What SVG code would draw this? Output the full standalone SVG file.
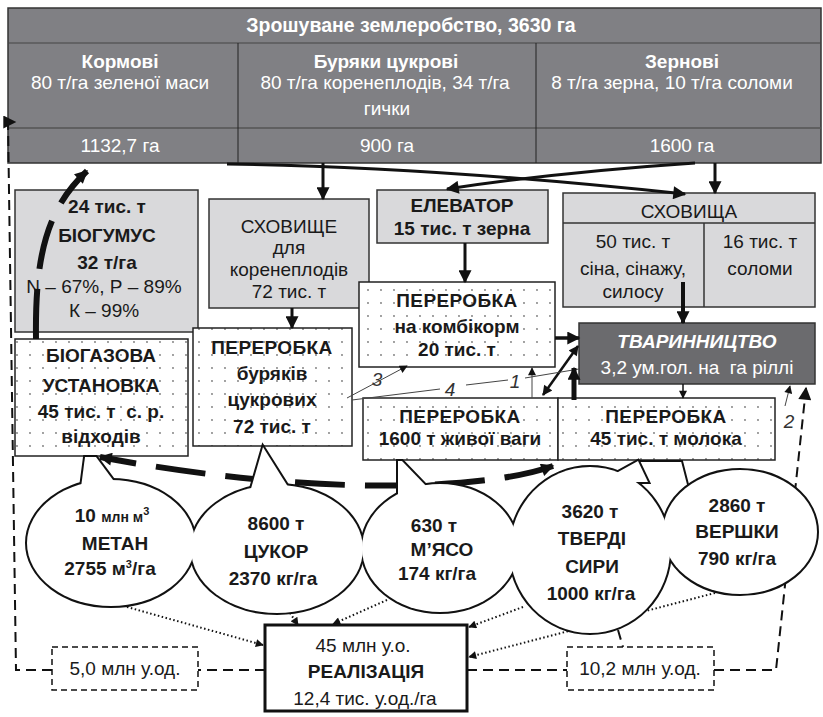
<svg xmlns="http://www.w3.org/2000/svg" width="823" height="717" viewBox="0 0 823 717">
<style>
text{font-family:"Liberation Sans",Arial,sans-serif;font-size:19px;fill:#1a1a1a;text-anchor:middle}
.b{font-weight:bold}
.w{fill:#fff}
.t{font-size:19.5px}
.sp{letter-spacing:0.4px}
.sm{font-size:14px}
.sup{font-size:11px}
.lbl{font-style:italic;font-size:19px;fill:#333}
.gbox{fill:#d9d9db;stroke:#333;stroke-width:1.5}
.dbox{fill:url(#dots);stroke:#222;stroke-width:1.5}
.solid{fill:none;stroke:#111}
.dash{fill:none;stroke:#111;stroke-width:2;stroke-dasharray:10 6}
.dot{fill:none;stroke:#111;stroke-width:2;stroke-dasharray:1.5 2.5}
.thick{fill:none;stroke:#111;stroke-width:6;stroke-dasharray:50 20}
.thin{fill:none;stroke:#444;stroke-width:1}
</style>
<defs>
<pattern id="dots" width="13" height="13" patternUnits="userSpaceOnUse">
<rect width="13" height="13" fill="#fff"/>
<circle cx="4" cy="4" r="0.9" fill="#777"/>
</pattern>
<marker id="ah" viewBox="0 0 10 10" refX="9" refY="5" markerWidth="15" markerHeight="13" markerUnits="userSpaceOnUse" orient="auto-start-reverse"><path d="M0,0 L10,5 L0,10 z" fill="#111"/></marker>
<marker id="ahm" viewBox="0 0 10 10" refX="9" refY="5" markerWidth="12" markerHeight="10" markerUnits="userSpaceOnUse" orient="auto-start-reverse"><path d="M0,0 L10,5 L0,10 z" fill="#111"/></marker>
<marker id="ahs" viewBox="0 0 10 10" refX="9" refY="5" markerWidth="9" markerHeight="8" markerUnits="userSpaceOnUse" orient="auto-start-reverse"><path d="M0,0 L10,5 L0,10 z" fill="#111"/></marker>
<g id="sh-metan"><ellipse cx="111" cy="543" rx="84" ry="63"/><polygon points="80,495 85,457 96,457 116,484"/></g>
<g id="sh-tsukor"><ellipse cx="277" cy="549" rx="86" ry="64"/><polygon points="250,492 263,447 290,490"/></g>
<g id="sh-myaso"><ellipse cx="440" cy="548" rx="78" ry="64"/><polygon points="398,500 398,461 402,461 430,490"/></g>
<g id="sh-syry"><ellipse cx="590" cy="550" rx="80" ry="83"/><polygon points="600,482 638,461 648,482"/></g>
<g id="sh-vershky"><ellipse cx="740" cy="532" rx="77" ry="62"/></g>
</defs>

<g id="zroshuvane">
<rect x="8" y="8" width="813" height="155" fill="#808084" stroke="#333" stroke-width="1.5"/>
<line x1="8" y1="43" x2="821" y2="43" stroke="#444" stroke-width="1.2"/>
<line x1="8" y1="128" x2="821" y2="128" stroke="#555" stroke-width="1.5"/>
<line x1="238" y1="43" x2="238" y2="163" stroke="#222" stroke-width="1"/>
<line x1="536" y1="43" x2="536" y2="163" stroke="#222" stroke-width="1"/>
<text class="b w t" x="411" y="32">Зрошуване землеробство, 3630 га</text>
<text class="b w" x="120" y="68">Кормові</text>
<text class="w" x="120" y="89">80 т/га зеленої маси</text>
<text class="w" x="120" y="152">1132,7 га</text>
<text class="b w" x="386" y="68">Буряки цукрові</text>
<text class="w" x="385" y="89">80 т/га коренеплодів, 34 т/га</text>
<text class="w" x="387" y="115">гички</text>
<text class="w" x="387" y="152">900 га</text>
<text class="b w" x="682" y="68">Зернові</text>
<text class="w" x="672" y="89">8 т/га зерна, 10 т/га соломи</text>
<text class="w" x="682" y="152">1600 га</text>
</g>

<g id="biohumus">
<rect class="gbox" x="15" y="190" width="183" height="142"/>
<text class="b" x="107" y="213">24 тис. т</text>
<text class="b" x="107" y="242">БІОГУМУС</text>
<text class="b" x="107" y="269">32 т/га</text>
<text x="104" y="293">N – 67%, Р – 89%</text>
<text x="104" y="317">К – 99%</text>
</g>

<g id="skhovyshche">
<rect class="gbox" x="209" y="199" width="160" height="109"/>
<text x="289" y="233">СХОВИЩЕ</text>
<text x="289" y="254">для</text>
<text x="289" y="276">коренеплодів</text>
<text x="289" y="298">72 тис. т</text>
</g>

<g id="elevator">
<rect class="gbox" x="377" y="190" width="171" height="53"/>
<text class="b" x="462" y="212">ЕЛЕВАТОР</text>
<text class="b" x="462" y="235">15 тис. т зерна</text>
</g>

<g id="skhovyshcha">
<rect class="gbox" x="563" y="193" width="252" height="114"/>
<line x1="563" y1="223" x2="815" y2="223" stroke="#333" stroke-width="1.5"/>
<line x1="704" y1="223" x2="704" y2="307" stroke="#333" stroke-width="1.5"/>
<text x="689" y="218">СХОВИЩА</text>
<text x="633" y="248">50 тис. т</text>
<text x="633" y="275">сіна, сінажу,</text>
<text x="633" y="298">силосу</text>
<text x="760" y="248">16 тис. т</text>
<text x="760" y="275">соломи</text>
</g>

<g id="kombikorm">
<rect class="dbox" x="359" y="282" width="196" height="85"/>
<text class="b sp" x="457" y="307">ПЕРЕРОБКА</text>
<text class="b" x="457" y="333">на комбікорм</text>
<text class="b" x="457" y="356">20 тис. т</text>
</g>

<g id="tvarynnytstvo">
<rect x="579" y="323" width="236" height="61" fill="#6b6b6e" stroke="#333" stroke-width="1.5"/>
<text class="b w" x="697" y="348" font-style="italic">ТВАРИННИЦТВО</text>
<text class="w" x="697" y="374" xml:space="preserve">3,2 ум.гол. на  га ріллі</text>
</g>

<g id="buryaky">
<rect class="dbox" x="193" y="328" width="159" height="118"/>
<text class="b sp" x="272" y="354">ПЕРЕРОБКА</text>
<text class="b" x="272" y="380">буряків</text>
<text class="b" x="272" y="406">цукрових</text>
<text class="b" x="272" y="433">72 тис. т</text>
</g>

<g id="biogaz">
<rect class="dbox" x="15" y="339" width="173" height="117"/>
<text class="b" x="101" y="362">БІОГАЗОВА</text>
<text class="b" x="101" y="392">УСТАНОВКА</text>
<text class="b" x="101" y="418" xml:space="preserve">45 тис. т  с. р.</text>
<text class="b" x="101" y="443">відходів</text>
</g>

<g id="myaso-proc">
<rect class="dbox" x="363" y="398" width="195" height="62"/>
<text class="b sp" x="460" y="423">ПЕРЕРОБКА</text>
<text class="b" x="460" y="445">1600 т живої ваги</text>
</g>

<g id="moloko-proc">
<rect class="dbox" x="558" y="398" width="217" height="62"/>
<text class="b sp" x="666" y="423">ПЕРЕРОБКА</text>
<text class="b" x="666" y="445">45 тис. т молока</text>
</g>

<g id="connectors">
<path class="solid" stroke-width="3" d="M227,164 Q420,166 685,194" marker-end="url(#ah)"/>
<path class="solid" stroke-width="3" d="M695,163 Q560,172 447,189" marker-end="url(#ah)"/>
<path class="solid" stroke-width="3" d="M323,163 V199" marker-end="url(#ah)"/>
<path class="solid" stroke-width="3" d="M715,163 V193" marker-end="url(#ah)"/>
<path class="solid" stroke-width="3" d="M292,308 V328" marker-end="url(#ah)"/>
<path class="solid" stroke-width="3" d="M465,243 V282" marker-end="url(#ah)"/>
<path class="solid" stroke-width="4" d="M683,282 V323" marker-end="url(#ah)"/>
<path class="solid" stroke-width="3.5" d="M555,338 H579" marker-end="url(#ah)"/>
<path class="solid" stroke-width="2.5" d="M543,395 L578,346" marker-start="url(#ahm)" marker-end="url(#ahm)"/>
<path class="solid" stroke-width="1.5" d="M683,384 V398" marker-end="url(#ahs)"/>
<path class="thin" d="M347,398 L407,366" marker-end="url(#ahs)"/>
<path class="thin" d="M352,400 L440,389 M466,385 L508,380 M525,378 L579,369"/>
<path class="thin" d="M532,398 V368" marker-end="url(#ahs)"/>
<path class="thin" d="M785,406 L790,386" marker-end="url(#ahs)"/>
<text class="lbl" x="377" y="386">3</text>
<text class="lbl" x="450" y="396">4</text>
<text class="lbl" x="515" y="388">1</text>
<text class="lbl" x="789" y="428">2</text>
<path class="thick" d="M36,339 C35,260 45,210 87,171" marker-end="url(#ah)"/>
<path class="thick" d="M553,466 C480,492 300,495 100,457" marker-start="url(#ah)" marker-end="url(#ah)"/>
<path class="solid" stroke-width="5" d="M574,400 V368" marker-end="url(#ah)"/>
<path class="dash" d="M265,670 H198"/>
<path class="dash" d="M52,670 H16 L8,122 H15" marker-end="url(#ah)"/>
<path class="dash" d="M467,670 H567"/>
<path class="dash" d="M714,670 H776 L806,388" marker-end="url(#ah)"/>
<path class="dash" d="M618,630 L623,647"/>
<path class="dot" d="M127,607 L263,645" marker-end="url(#ahs)"/>
<path class="dot" d="M290,613 L298,625" marker-end="url(#ahs)"/>
<path class="dot" d="M387,600 L333,624" marker-end="url(#ahs)"/>
<path class="dot" d="M523,607 L469,627" marker-end="url(#ahs)"/>
<path class="dot" d="M715,593 L469,657" marker-end="url(#ahs)"/>
</g>

<g id="bubble-outlines" fill="none" stroke="#111" stroke-width="4">
<polygon id="vershky-tail" points="638,461 682,461 692,500 668,545 636,500" fill="#fff" stroke-width="2"/>
<use href="#sh-metan"/>
<use href="#sh-tsukor"/>
<use href="#sh-myaso"/>
<use href="#sh-syry"/>
<use href="#sh-vershky"/>
</g>

<g id="metan">
<use href="#sh-metan" fill="#fff"/>
<text class="b" x="112" y="522">10 <tspan class="sm">млн м</tspan><tspan class="sup" dy="-7">3</tspan></text>
<text class="b" x="115" y="550">МЕТАН</text>
<text class="b" x="110" y="575">2755 м<tspan class="sup" dy="-7">3</tspan><tspan dy="7">/га</tspan></text>
</g>

<g id="tsukor">
<use href="#sh-tsukor" fill="#fff"/>
<text class="b" x="276" y="530">8600 т</text>
<text class="b" x="276" y="558">ЦУКОР</text>
<text class="b" x="273" y="585">2370 кг/га</text>
</g>

<g id="myaso">
<use href="#sh-myaso" fill="#fff"/>
<text class="b" x="434" y="532">630 т</text>
<text class="b" x="442" y="556">М’ЯСО</text>
<text class="b" x="437" y="580">174 кг/га</text>
</g>

<g id="syry">
<use href="#sh-syry" fill="#fff"/>
<text class="b" x="590" y="518">3620 т</text>
<text class="b" x="592" y="545">ТВЕРДІ</text>
<text class="b" x="592" y="573">СИРИ</text>
<text class="b" x="591" y="600">1000 кг/га</text>
</g>

<g id="vershky">
<use href="#sh-vershky" fill="#fff"/>
<text class="b" x="737" y="512">2860 т</text>
<text class="b" x="737" y="538">ВЕРШКИ</text>
<text class="b" x="737" y="565">790 кг/га</text>
</g>

<g id="realizatsiya">
<rect x="265" y="625" width="202" height="86" fill="#fff" stroke="#111" stroke-width="3"/>
<text x="363" y="652">45 млн у.о.</text>
<text class="b" x="366" y="678">РЕАЛІЗАЦІЯ</text>
<text x="365" y="705">12,4 тис. у.од./га</text>
</g>

<g id="sum-left">
<rect x="52" y="647" width="146" height="43" fill="#fff" stroke="#111" stroke-width="1.5" stroke-dasharray="6 4"/>
<text x="125" y="675">5,0 млн у.од.</text>
</g>

<g id="sum-right">
<rect x="567" y="647" width="147" height="43" fill="#fff" stroke="#111" stroke-width="1.5" stroke-dasharray="6 4"/>
<text x="640" y="675">10,2 млн у.од.</text>
</g>
</svg>
